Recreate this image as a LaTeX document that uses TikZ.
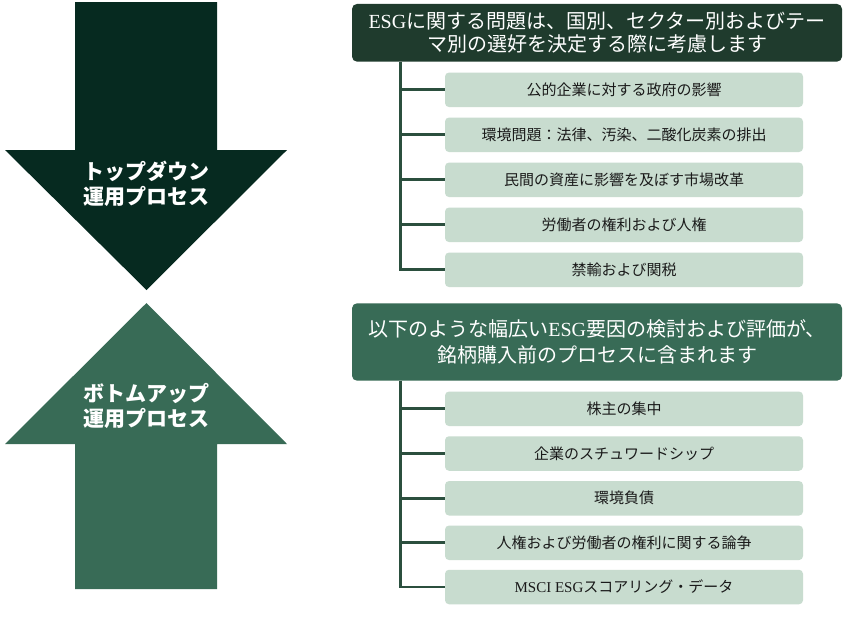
\documentclass[tikz,border=0pt]{standalone}
\usepackage{fontspec}
\setmainfont{Noto Sans CJK JP}
\newfontfamily\lat{Liberation Serif}
\definecolor{arrowdark}{HTML}{062A20}
\definecolor{headdark}{HTML}{1F3B2D}
\definecolor{midgreen}{HTML}{386B56}
\definecolor{boxfill}{HTML}{C8DCCF}
\definecolor{treeline}{HTML}{2B4F3E}
\definecolor{boxtext}{HTML}{1A1A1A}
\tikzset{
  itembox/.style={fill=boxfill, rounded corners=4pt, minimum width=358pt, minimum height=34.5pt,
    inner sep=0pt, text=boxtext, font=\fontsize{15pt}{17pt}\selectfont},
  header/.style={rounded corners=5pt, minimum width=490pt, inner sep=0pt, text=white,
    align=center, font=\fontsize{20pt}{23.5pt}\selectfont},
  arrowlabel/.style={text=white, align=center, font=\fontsize{21pt}{25pt}\selectfont\bfseries},
  tree/.style={draw=treeline, line width=2.8pt}
}
\begin{document}
\begin{tikzpicture}[x=1pt,y=-1pt]
\useasboundingbox (0,0) rectangle (850,616);
\fill[white] (0,0) rectangle (850,616);
% top-down arrow
\fill[arrowdark] (75,2) -- (217,2) -- (217,150) -- (287,150) -- (146.5,290) -- (5,150) -- (75,150) -- cycle;
\node[arrowlabel] (tdl) at (146,184) {トップダウン\\運用プロセス};
% bottom-up arrow
\fill[midgreen] (146.5,303) -- (287,444) -- (217,444) -- (217,589) -- (75,589) -- (75,444) -- (5,444) -- cycle;
\node[arrowlabel] (bul) at (146,406) {ボトムアップ\\運用プロセス};
% header 1
\node[header, fill=headdark, minimum height=57.7pt] (h1) at (597,32.8)
  {{\lat ESG}に関する問題は、国別、セクター別およびテー\\マ別の選好を決定する際に考慮します};
% items group 1
\node[itembox] (a1) at (624,89.8) {公的企業に対する政府の影響};
\node[itembox] (a2) at (624,134.8) {環境問題：法律、汚染、二酸化炭素の排出};
\node[itembox] (a3) at (624,179.8) {民間の資産に影響を及ぼす市場改革};
\node[itembox] (a4) at (624,224.8) {労働者の権利および人権};
\node[itembox] (a5) at (624,269.8) {禁輸および関税};
\coordinate (s1) at (400.5,61.7);
\draw[tree] (s1) -- (s1 |- a5.west) -- (a5.west);
\foreach \n in {a1,a2,a3,a4}{\draw[tree] (s1 |- \n.west) -- (\n.west);}
% header 2
\node[header, fill=midgreen, minimum height=77.4pt, font=\fontsize{20pt}{26.5pt}\selectfont] (h2) at (597,342)
  {以下のような幅広い{\lat ESG}要因の検討および評価が、\\銘柄購入前のプロセスに含まれます};
% items group 2
\node[itembox] (b1) at (624,408.8) {株主の集中};
\node[itembox] (b2) at (624,453.5) {企業のスチュワードシップ};
\node[itembox] (b3) at (624,498.3) {環境負債};
\node[itembox] (b4) at (624,542.8) {人権および労働者の権利に関する論争};
\node[itembox] (b5) at (624,587) {{\lat MSCI ESG}スコアリング・データ};
\coordinate (s2) at (400.5,380.7);
\draw[tree] (s2) -- (s2 |- b5.west) -- (b5.west);
\foreach \n in {b1,b2,b3,b4}{\draw[tree] (s2 |- \n.west) -- (\n.west);}
\end{tikzpicture}
\end{document}
